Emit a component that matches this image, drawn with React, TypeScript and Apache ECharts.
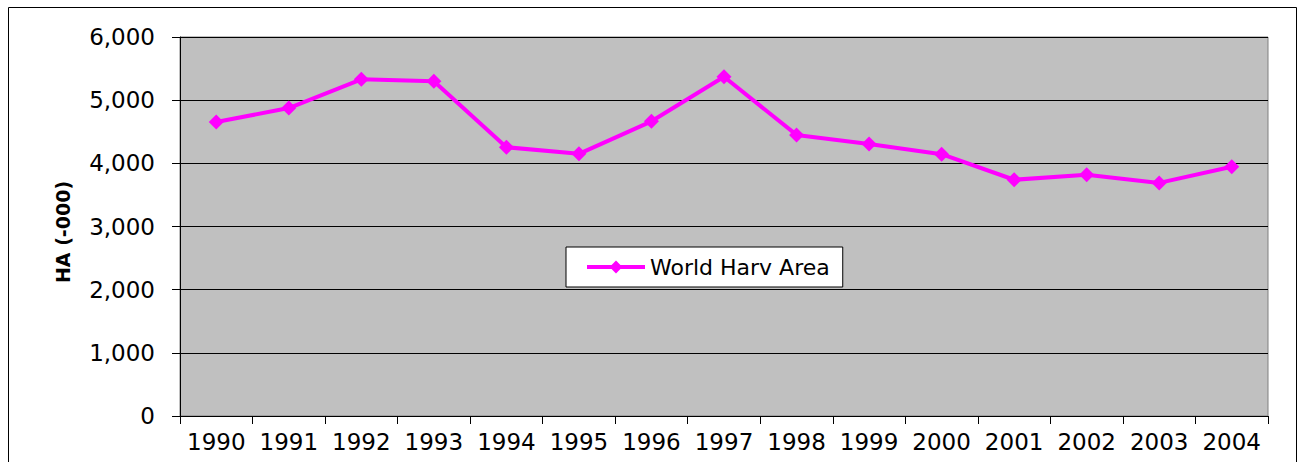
import React, { useEffect, useRef } from "react";
import * as echarts from "echarts";

const years = ["1990", "1991", "1992", "1993", "1994", "1995", "1996", "1997", "1998", "1999", "2000", "2001", "2002", "2003", "2004"];
const harvArea = [4655, 4875, 5330, 5300, 4255, 4150, 4665, 5370, 4450, 4305, 4145, 3740, 3820, 3690, 3945];
const seriesName = "World Harv Area";
const yAxisTitle = "HA (-000)";

const FONT = "DejaVu Sans";

export default function App() {
  const ref = useRef<HTMLDivElement>(null);
  useEffect(() => {
    if (!ref.current) return;
    const chart = echarts.init(ref.current, undefined, { renderer: "svg" });
    chart.setOption({
      animation: false,
      backgroundColor: "#ffffff",
      graphic: [
        {
          type: "rect",
          shape: { x: 8.5, y: 7.5, width: 1288, height: 480 },
          style: { fill: "none", stroke: "#000000", lineWidth: 1 },
          silent: true,
          z: 100,
        },
        {
          type: "text",
          x: 63,
          y: 232,
          rotation: Math.PI / 2,
          style: {
            text: yAxisTitle,
            fontFamily: FONT,
            fontWeight: "bold",
            fontSize: 19,
            fill: "#000000",
            align: "center",
            verticalAlign: "middle",
          },
        },
      ],
      grid: {
        left: 180,
        right: 33,
        top: 37,
        bottom: 46,
        show: true,
        backgroundColor: "#c0c0c0",
        borderColor: "#808080",
        borderWidth: 1,
      },
      legend: {
        data: [seriesName],
        left: 566,
        top: 247,
        padding: [9, 13, 9, 19],
        backgroundColor: "#ffffff",
        borderColor: "#000000",
        borderWidth: 1,
        borderRadius: 0,
        itemWidth: 58,
        itemHeight: 16,
        itemGap: 4,
        lineStyle: { width: 4 },
        textStyle: { fontFamily: FONT, fontSize: 22, color: "#000000", padding: [0, 0, 0, 0] },
      },
      xAxis: {
        type: "category",
        data: years,
        boundaryGap: true,
        axisLine: { lineStyle: { color: "#000000", width: 1 } },
        axisTick: { show: true, length: 8, inside: false, lineStyle: { color: "#000000" } },
        axisLabel: { fontFamily: FONT, fontSize: 23, color: "#000000", margin: 14, interval: 0 },
        splitLine: { show: false },
      },
      yAxis: {
        type: "value",
        min: 0,
        max: 6000,
        interval: 1000,
        axisLine: { show: true, lineStyle: { color: "#000000", width: 1 } },
        axisTick: { show: true, length: 8, lineStyle: { color: "#000000" } },
        axisLabel: {
          fontFamily: FONT,
          fontSize: 23,
          color: "#000000",
          margin: 25,
          formatter: (v: number) => v.toLocaleString("en-US"),
        },
        splitLine: { show: true, lineStyle: { color: "#000000", width: 1 } },
      },
      series: [
        {
          name: seriesName,
          type: "line",
          data: harvArea,
          symbol: "diamond",
          symbolSize: 15,
          showSymbol: true,
          lineStyle: { color: "#ff00ff", width: 4 },
          itemStyle: { color: "#ff00ff" },
          z: 5,
        },
      ],
    });
    return () => chart.dispose();
  }, []);
  return (
    <div
      ref={ref}
      style={{ position: "fixed", left: 0, top: 0, width: 1301, height: 462 }}
    />
  );
}
